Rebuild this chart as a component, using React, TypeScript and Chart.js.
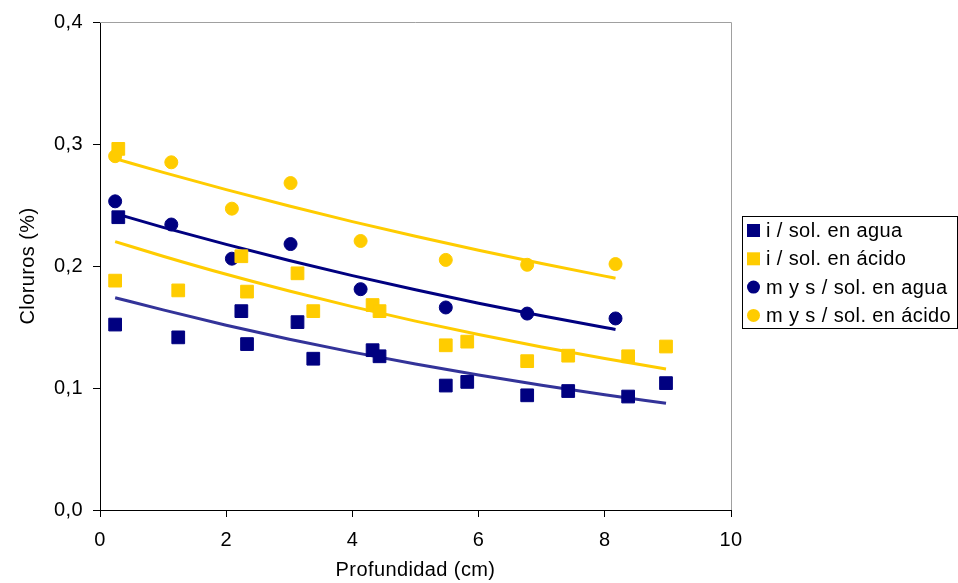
import React, { useEffect, useRef } from 'react';
import { Chart, registerables } from 'chart.js';

Chart.register(...registerables);

const seriesNames = ['i / sol. en agua', 'i / sol. en ácido', 'm y s / sol. en agua', 'm y s / sol. en ácido'];

const iDepth = [0.24, 0.29, 1.24, 2.24, 2.33, 3.13, 3.38, 4.32, 4.43, 5.48, 5.82, 6.77, 7.42, 8.37, 8.97];
const iAgua = [0.152, 0.240, 0.1415, 0.163, 0.136, 0.154, 0.124, 0.131, 0.126, 0.102, 0.105, 0.094, 0.0975, 0.093, 0.104];
const iAcido = [0.188, 0.296, 0.180, 0.208, 0.179, 0.194, 0.163, 0.168, 0.163, 0.135, 0.138, 0.122, 0.1265, 0.126, 0.134];

const mysDepth = [0.24, 1.13, 2.09, 3.02, 4.13, 5.48, 6.77, 8.17];
const mysAgua = [0.253, 0.234, 0.206, 0.218, 0.181, 0.166, 0.161, 0.157];
const mysAcido = [0.290, 0.285, 0.247, 0.268, 0.2205, 0.205, 0.201, 0.2016];

// trend lines
const iTrendDepth = [0.24, 1, 2, 3, 4, 5, 6, 7, 8, 8.97];
const iAguaTrend = [0.174, 0.164, 0.1515, 0.140, 0.1294, 0.1196, 0.1106, 0.1022, 0.0945, 0.0875];
const iAcidoTrend = [0.220, 0.208, 0.1932, 0.1795, 0.1667, 0.1548, 0.1438, 0.1336, 0.1241, 0.1156];
const mysTrendDepth = [0.24, 1, 2, 3, 4, 5, 6, 7, 8, 8.17];
const mysAguaTrend = [0.243, 0.2317, 0.2177, 0.2045, 0.1921, 0.1805, 0.1695, 0.1593, 0.1496, 0.148];
const mysAcidoTrend = [0.288, 0.2767, 0.2626, 0.2492, 0.2364, 0.2244, 0.2129, 0.2020, 0.1917, 0.190];

const yTicks = [0, 0.1, 0.2, 0.3, 0.4];
const xTicks = [0, 2, 4, 6, 8, 10];

const NAVY = '#000080';
const YELLOW = '#FFCC00';
const TREND_BLUE = '#333399';
const FONT = '"Liberation Sans", Arial, sans-serif';
const FS = 20;
const SPACING = '0.4px';

const pts = (xs: number[], ys: number[]) => xs.map((x, i) => ({ x, y: ys[i] }));

const spacingPlugin = {
  id: 'spacing',
  beforeUpdate(chart: any) { chart.ctx.letterSpacing = SPACING; },
  beforeDraw(chart: any) { chart.ctx.letterSpacing = SPACING; },
};

const framePlugin = {
  id: 'frame',
  beforeDatasetsDraw(chart: any) {
    const { ctx, chartArea: a } = chart;
    ctx.save();
    ctx.strokeStyle = '#a0a0a0';
    ctx.lineWidth = 1;
    ctx.beginPath();
    ctx.moveTo(a.left, a.top + 0.5);
    ctx.lineTo(a.right + 0.5, a.top + 0.5);
    ctx.lineTo(a.right + 0.5, a.bottom);
    ctx.stroke();
    ctx.restore();
  },
};

const legendPlugin = {
  id: 'boxLegend',
  afterDraw(chart: any) {
    const { ctx, chartArea: a } = chart;
    const left = Math.round(a.right) + 11;
    const top = 216;
    const w = 215;
    const h = 112;
    ctx.save();
    ctx.strokeStyle = '#000';
    ctx.lineWidth = 1;
    ctx.strokeRect(left + 0.5, top + 0.5, w, h);
    ctx.font = FS + 'px ' + FONT;
    ctx.textBaseline = 'middle';
    ctx.textAlign = 'left';
    const items = chart.data.datasets.filter((d: any) => d.legend);
    items.forEach((d: any, i: number) => {
      const cy = top + 14.5 + i * 28.3;
      const cx = left + 11.5;
      ctx.fillStyle = d.backgroundColor;
      if (d.pointStyle === 'rect') {
        ctx.fillRect(cx - 6.5, cy - 6.5, 13, 13);
      } else {
        ctx.beginPath();
        ctx.arc(cx, cy, 6.5, 0, Math.PI * 2);
        ctx.fill();
      }
      ctx.fillStyle = '#000';
      ctx.fillText(d.label, left + 24, cy + 1);
    });
    ctx.restore();
  },
};

export default function App() {
  const ref = useRef<HTMLCanvasElement>(null);
  useEffect(() => {
    if (!ref.current) return;
    const scatter = (label: string, data: any[], color: string, style: string) => ({
      label, data, legend: true,
      backgroundColor: color, borderColor: color, borderWidth: 1,
      pointStyle: style, pointRadius: style === 'rect' ? 9 : 6.5,
      showLine: false, order: 0,
    });
    const trend = (label: string, data: any[], color: string) => ({
      label, data, legend: false,
      borderColor: color, backgroundColor: color, borderWidth: 3,
      pointRadius: 0, showLine: true, tension: 0.4, cubicInterpolationMode: 'monotone', order: 1,
    });
    const chart = new Chart(ref.current, {
      type: 'scatter',
      data: {
        datasets: [
          scatter(seriesNames[0], pts(iDepth, iAgua), NAVY, 'rect'),
          scatter(seriesNames[1], pts(iDepth, iAcido), YELLOW, 'rect'),
          scatter(seriesNames[2], pts(mysDepth, mysAgua), NAVY, 'circle'),
          scatter(seriesNames[3], pts(mysDepth, mysAcido), YELLOW, 'circle'),
          trend('t1', pts(iTrendDepth, iAguaTrend), TREND_BLUE),
          trend('t2', pts(iTrendDepth, iAcidoTrend), YELLOW),
          trend('t3', pts(mysTrendDepth, mysAguaTrend), NAVY),
          trend('t4', pts(mysTrendDepth, mysAcidoTrend), YELLOW),
        ] as any,
      },
      options: {
        animation: false,
        responsive: true,
        maintainAspectRatio: false,
        layout: { padding: { top: 20, right: 227, left: 0, bottom: 0 } },
        plugins: { legend: { display: false }, tooltip: { enabled: false } },
        scales: {
          x: {
            type: 'linear', min: 0, max: 10,
            afterBuildTicks: (s: any) => { s.ticks = xTicks.map((v) => ({ value: v })); },
            afterFit: (s: any) => { s.height = 73; },
            ticks: { color: '#000', font: { family: FONT, size: FS }, padding: 11, callback: (v: any) => String(v) },
            grid: { drawOnChartArea: false, drawTicks: true, tickLength: 7, color: '#000' },
            border: { color: '#000', width: 1 },
            title: { display: true, text: 'Profundidad (cm)', color: '#000', font: { family: FONT, size: FS }, padding: { top: 0, bottom: 1 } },
          },
          y: {
            type: 'linear', min: 0, max: 0.4,
            afterBuildTicks: (s: any) => { s.ticks = yTicks.map((v) => ({ value: v })); },
            afterFit: (s: any) => { s.width = 100; },
            ticks: { color: '#000', font: { family: FONT, size: FS }, padding: 10, callback: (v: any) => Number(v).toFixed(1).replace('.', ',') },
            grid: { drawOnChartArea: false, drawTicks: true, tickLength: 7, color: '#000' },
            border: { color: '#000', width: 1 },
            title: { display: true, text: 'Cloruros (%)', color: '#000', font: { family: FONT, size: FS }, padding: { top: 16, bottom: 0 } },
          },
        },
      } as any,
      plugins: [spacingPlugin, framePlugin, legendPlugin],
    });
    return () => chart.destroy();
  }, []);
  return (
    <div style={{ position: 'fixed', left: 0, top: 0, width: 958, height: 583, background: '#fff' }}>
      <canvas ref={ref} />
    </div>
  );
}
